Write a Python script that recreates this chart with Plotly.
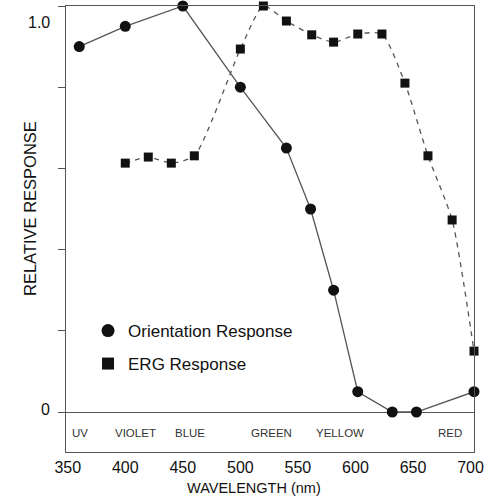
import plotly.graph_objects as go

# Data
orient_x = [360, 400, 450, 500, 540, 561, 581, 602, 632, 653, 703]
orient_y = [0.90, 0.95, 1.00, 0.80, 0.65, 0.50, 0.30, 0.05, 0.0, 0.0, 0.05]

erg_x = [400, 420, 440, 460, 500, 520, 540, 562, 581, 602, 623, 643, 663, 684, 703]
erg_y = [0.613, 0.628, 0.613, 0.631, 0.894, 1.0, 0.963, 0.929, 0.911, 0.931, 0.931, 0.81, 0.631, 0.473, 0.15]

band_labels = ["UV", "VIOLET", "BLUE", "GREEN", "YELLOW", "RED"]
band_x = [361, 409, 456, 527, 587, 682]
band_y = -0.052

x_ticks = [350, 400, 450, 500, 550, 600, 650, 700]
y_ticks = [0, 0.2, 0.4, 0.6, 0.8, 1.0]

FONT = "Liberation Sans, Arial, Helvetica, sans-serif"
INK = "#111111"
LINE = "#555555"

fig = go.Figure()

fig.add_trace(go.Scatter(
    x=erg_x, y=erg_y, mode="lines+markers",
    line=dict(color=LINE, width=1.3, dash="5px,5px", shape="spline", smoothing=0.6),
    marker=dict(symbol="square", size=9, color=INK),
    showlegend=False, cliponaxis=False, hoverinfo="skip",
))
fig.add_trace(go.Scatter(
    x=orient_x, y=orient_y, mode="lines+markers",
    line=dict(color=LINE, width=1.3),
    marker=dict(symbol="circle", size=11, color=INK),
    showlegend=False, cliponaxis=False, hoverinfo="skip",
))

# Legend entries (markers only)
fig.add_trace(go.Scatter(
    x=[None], y=[None], mode="markers", name="Orientation Response",
    marker=dict(symbol="circle", size=13, color=INK), legend="legend",
))
fig.add_trace(go.Scatter(
    x=[None], y=[None], mode="markers", name="ERG Response",
    marker=dict(symbol="square", size=12, color=INK), legend="legend2",
))

annotations = []
for lab, bx in zip(band_labels, band_x):
    annotations.append(dict(
        x=bx, y=band_y, xref="x", yref="y", text=lab, showarrow=False,
        font=dict(family=FONT, size=11.5, color="#333333"),
    ))

annotations += [
    dict(x=0, y=0.96, xref="paper", yref="y", xshift=-14, xanchor="right",
         text="1.0", showarrow=False, font=dict(family=FONT, size=16, color=INK)),
    dict(x=0, y=0.007, xref="paper", yref="y", xshift=-14, xanchor="right",
         text="0", showarrow=False, font=dict(family=FONT, size=16, color=INK)),
    dict(x=0, y=0.5, xref="paper", yref="y", xshift=-36, xanchor="center", yanchor="middle",
         text="RELATIVE RESPONSE", textangle=-90, showarrow=False,
         font=dict(family=FONT, size=16.5, color=INK)),
    dict(x=0.462, y=0, xref="paper", yref="paper", yshift=-36, yanchor="middle",
         text="WAVELENGTH (nm)", showarrow=False,
         font=dict(family=FONT, size=14.5, color=INK)),
]

fig.update_layout(
    width=494, height=496,
    margin=dict(l=66, r=20, t=6, b=44),
    paper_bgcolor="white", plot_bgcolor="white",
    font=dict(family=FONT, color=INK),
    annotations=annotations,
    legend=dict(x=0.054, y=0.2713, xanchor="left", yanchor="middle",
                bgcolor="rgba(0,0,0,0)", font=dict(family=FONT, size=17, color=INK),
                itemwidth=30),
    legend2=dict(x=0.054, y=0.1973, xanchor="left", yanchor="middle",
                 bgcolor="rgba(0,0,0,0)", font=dict(family=FONT, size=17, color=INK),
                 itemwidth=30),
)

fig.update_xaxes(
    range=[348.5, 703], tickvals=x_ticks, showgrid=False, zeroline=False,
    showline=True, mirror=True, linecolor=LINE, linewidth=1.3,
    ticks="outside", ticklen=1, tickcolor="rgba(0,0,0,0)",
    tickfont=dict(family=FONT, size=16, color=INK),
)
fig.update_yaxes(
    range=[-0.0985, 1.0], tickvals=y_ticks, showticklabels=False, showgrid=False,
    zeroline=True, zerolinecolor=LINE, zerolinewidth=1.3,
    showline=True, mirror=True, linecolor=LINE, linewidth=1.3,
    ticks="outside", ticklen=7, tickcolor=LINE, tickwidth=1.2,
)

fig.write_html("out.html", config={"displayModeBar": False},
               post_script="document.body.style.margin='0px';")
